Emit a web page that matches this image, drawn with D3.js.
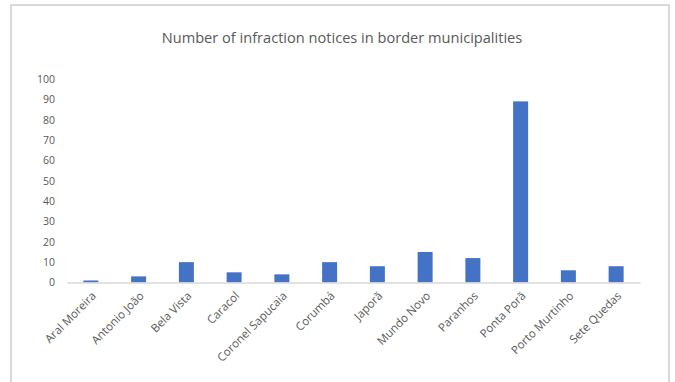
<!DOCTYPE html>
<html>
<head>
<meta charset="utf-8">
<script src="https://cdn.jsdelivr.net/npm/d3@7/dist/d3.min.js"></script>
<style>
  html, body { margin: 0; padding: 0; background: #ffffff; }
  svg { display: block; }
  text { font-family: "Open Sans", "Noto Sans", sans-serif; fill: #595959; }
</style>
</head>
<body>
<svg id="chart" width="675" height="382"></svg>
<script>
// Municipalities and number of infraction notices
const municipalities = [
  "Aral Moreira", "Antonio João", "Bela Vista", "Caracol", "Coronel Sapucaia",
  "Corumbá", "Japorã", "Mundo Novo", "Paranhos", "Ponta Porã",
  "Porto Murtinho", "Sete Quedas"
];
const notices = [1, 3, 10, 5, 4, 10, 8, 15, 12, 89, 6, 8];
const yTicks = [0, 10, 20, 30, 40, 50, 60, 70, 80, 90, 100];
const chartTitle = "Number of infraction notices in border municipalities";

const svg = d3.select("#chart");
const W = 675, H = 382;
const margin = { left: 67, right: 35, top: 79, bottom: 99 };

// Chart area frame
svg.append("rect")
  .attr("x", 11).attr("y", 5)
  .attr("width", 658).attr("height", 400)
  .attr("fill", "#ffffff")
  .attr("stroke", "#d9d9d9")
  .attr("stroke-width", 2);

const x = d3.scaleBand()
  .domain(municipalities)
  .range([margin.left, W - margin.right])
  .paddingInner(0.686)
  .paddingOuter(0.343);

const y = d3.scaleLinear()
  .domain([0, 100])
  .range([H - margin.bottom - 0.5, margin.top]);

// Title
svg.append("text")
  .attr("x", 342).attr("y", 43)
  .attr("text-anchor", "middle")
  .style("font-size", "14.6px")
  .text(chartTitle);

// Y axis labels (no axis line, no gridlines)
const yAxis = d3.axisLeft(y).tickValues(yTicks).tickSize(0).tickPadding(12);
const gy = svg.append("g")
  .attr("transform", `translate(${margin.left},0)`)
  .call(yAxis);
gy.select(".domain").remove();
gy.selectAll("text").style("font-size", "10.5px").attr("fill", "#595959");

// Bars
svg.append("g").selectAll("rect")
  .data(municipalities)
  .join("rect")
  .attr("x", d => x(d))
  .attr("width", x.bandwidth())
  .attr("y", (d, i) => y(notices[i]))
  .attr("height", (d, i) => y(0) - y(notices[i]))
  .attr("fill", "#4472c4");

// X axis
const xAxis = d3.axisBottom(x).tickSize(0).tickPadding(0);
const gx = svg.append("g")
  .attr("transform", `translate(0,${y(0)})`)
  .call(xAxis);
gx.select(".domain")
  .attr("stroke", "#d9d9d9")
  .attr("stroke-width", 1.5);
gx.selectAll("text")
  .style("font-size", "11.5px")
  .attr("fill", "#595959")
  .attr("text-anchor", "end")
  .attr("dy", null)
  .attr("y", 0)
  .attr("transform", "translate(6,14) rotate(-45)");
</script>
</body>
</html>
